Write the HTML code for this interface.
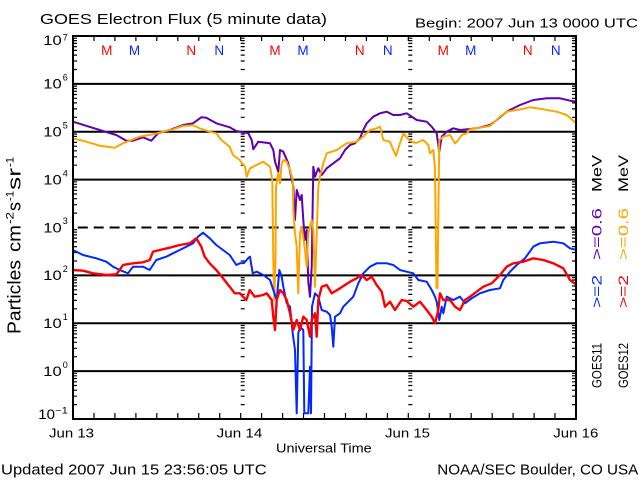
<!DOCTYPE html>
<html>
<head>
<meta charset="utf-8">
<style>
html,body{margin:0;padding:0;background:#fff;}
svg{display:block;}
text{font-family:"Liberation Sans",sans-serif;fill:#000;}
</style>
</head>
<body>
<svg width="640" height="480" viewBox="0 0 640 480" xmlns="http://www.w3.org/2000/svg">
<defs>
<clipPath id="plot"><rect x="73" y="36" width="503" height="383"/></clipPath>
<g id="mt"><path stroke="#000" stroke-width="1.2" fill="none" d="M0 404.6h4M0 396.2h4M0 390.2h4M0 385.5h4M0 381.8h4M0 378.5h4M0 375.8h4M0 373.3h4
M0 356.7h4M0 348.3h4M0 342.3h4M0 337.7h4M0 333.9h4M0 330.7h4M0 327.9h4M0 325.5h4
M0 308.8h4M0 300.4h4M0 294.4h4M0 289.8h4M0 286.0h4M0 282.8h4M0 280.0h4M0 277.6h4
M0 261.0h4M0 252.5h4M0 246.6h4M0 241.9h4M0 238.1h4M0 234.9h4M0 232.1h4M0 229.7h4
M0 213.1h4M0 204.7h4M0 198.7h4M0 194.0h4M0 190.3h4M0 187.0h4M0 184.3h4M0 181.8h4
M0 165.2h4M0 156.8h4M0 150.8h4M0 146.2h4M0 142.4h4M0 139.2h4M0 136.4h4M0 134.0h4
M0 117.3h4M0 108.9h4M0 102.9h4M0 98.3h4M0 94.5h4M0 91.3h4M0 88.5h4M0 86.1h4
M0 69.5h4M0 61.0h4M0 55.1h4M0 50.4h4M0 46.6h4M0 43.4h4M0 40.6h4M0 38.2h4"/></g>
</defs>

<!-- Title -->
<text x="40" y="24" font-size="15" textLength="287" lengthAdjust="spacingAndGlyphs">GOES Electron Flux (5 minute data)</text>
<text x="415" y="27.3" font-size="13" textLength="223" lengthAdjust="spacingAndGlyphs">Begin: 2007 Jun 13 0000 UTC</text>

<!-- Gridlines -->
<g stroke="#000" stroke-width="2" fill="none">
<path d="M73 83.9H576M73 131.75H576M73 179.6H576M73 275.4H576M73 323.25H576M73 371.1H576"/>
<path d="M73 227.5H576" stroke-dasharray="10,5.9" stroke-dashoffset="11.1"/>
</g>

<!-- minor ticks -->
<use href="#mt" x="73"/>
<use href="#mt" x="240.7"/>
<use href="#mt" x="408.3"/>
<use href="#mt" x="572"/>

<!-- time ticks -->
<path stroke="#000" stroke-width="1.2" fill="none" d="
M94 419v-6M114.9 419v-6M135.9 419v-6M156.8 419v-6M177.8 419v-6M198.75 419v-6M219.7 419v-6M240.7 419v-6M261.6 419v-6M282.6 419v-6M303.5 419v-6M324.5 419v-6M345.5 419v-6M366.4 419v-6M387.4 419v-6M408.3 419v-6M429.3 419v-6M450.25 419v-6M471.2 419v-6M492.2 419v-6M513.1 419v-6M534.1 419v-6M555 419v-6
M94 36v5M114.9 36v5M135.9 36v5M156.8 36v5M177.8 36v5M198.75 36v5M219.7 36v5M240.7 36v5M261.6 36v5M282.6 36v5M303.5 36v5M324.5 36v5M345.5 36v5M366.4 36v5M387.4 36v5M408.3 36v5M429.3 36v5M450.25 36v5M471.2 36v5M492.2 36v5M513.1 36v5M534.1 36v5M555 36v5"/>

<!-- M / N markers -->
<g font-size="13.5" text-anchor="middle">
<text x="106.7" y="55" style="fill:#ff0000">M</text>
<text x="134.5" y="55" style="fill:#0028ff">M</text>
<text x="191.3" y="55" style="fill:#ff0000">N</text>
<text x="219.2" y="55" style="fill:#0028ff">N</text>
<text x="275" y="55" style="fill:#ff0000">M</text>
<text x="303" y="55" style="fill:#0028ff">M</text>
<text x="359.7" y="55" style="fill:#ff0000">N</text>
<text x="387.7" y="55" style="fill:#0028ff">N</text>
<text x="443.3" y="55" style="fill:#ff0000">M</text>
<text x="470.8" y="55" style="fill:#0028ff">M</text>
<text x="527.8" y="55" style="fill:#ff0000">N</text>
<text x="555.8" y="55" style="fill:#0028ff">N</text>
</g>

<!-- Data -->
<g clip-path="url(#plot)" fill="none" stroke-linejoin="round" stroke-width="2">
<polyline stroke="#6000b0" points="73,121.7 103,131 116.3,135 126.3,140.7 133,140.7 143,137.3 151.3,140.7 158,133.3 169.7,130 183,125 193,123.3 201.3,117.3 206.3,117.7 216.3,123.3 229.7,127.3 236.3,131 240,131.7 248.3,133.3 251.7,140 253.3,149.3 258.3,141.7 270,143.3 273.3,150 275,161.7 278.3,171.7 280,150 283.3,151.7 288.3,163.3 293.3,186.7 295,220 296.7,190 300,200 301.7,195 303.3,220 305,240 306.7,230 308.3,281.7 310,296.7 311.7,266.7 313.3,166.7 315,176.7 318.3,168.3 321.7,175 326.7,168.3 333.3,163.3 340,158.3 345,150 350,145 355,143.3 360,138.3 363.3,130 366.7,123.3 373.3,116.7 380,113.3 386.7,111.7 393.3,115 400,115 406.7,113.3 416.7,120 426.7,121.7 431.7,126.7 436.7,133.3 439.3,151.7 441.7,136.7 446.7,131.7 453.3,128.3 460,130 470,129 476.7,128.3 490,125 496.7,120 506.7,111.7 520,105 533.3,100 546.7,98.3 560,98.3 570,100.7 577,101.7"/>
<polyline stroke="#ffa500" points="73,138.3 86.3,141.7 99.7,145.7 114.7,147.7 123,143.3 133,139.3 139.7,136.7 153,134.3 163,131.7 173,129.3 183,126 193,125.3 199.7,128.3 209.7,131.7 216.3,133.3 221.3,140 229.7,146.7 233,155 239.7,160 245,166.7 246.7,176.7 250,168.3 260,163.3 263.3,161.7 270,166.7 272.3,180 273.3,260 274.3,300 275.5,260 276,186.7 278.3,173.3 280,183.3 281.7,163.3 283.3,160 286.7,161.7 290,170 292.7,180 293.3,210 295,233.3 296.7,246.7 298.3,293.3 300,233.3 301.7,226.7 305,250 306.7,266.7 308.3,233.3 310,226.7 311.7,220 313.3,230 315,286.7 316.7,233.3 318.3,186.7 320,176.7 323.3,163.3 326.7,153.3 336.7,150 346.7,143.3 356.7,141.7 363.3,136.7 370,130 376.7,128.3 380,126.7 381.7,133.3 383.3,140 390,141.7 393.3,150 396,156 400,143 403.5,133.5 410,141 416,143 423.3,140 428.3,145 430,153.3 433.3,150 435,168.3 436,250 436.5,288 437.5,288 438.5,200 439.3,140 443.3,136.7 450,135 455,143.3 458.3,140 461.7,135 466.7,133.3 470,129.3 480,127.7 490,126 500,116.7 506.7,111.7 516.7,110 530,107.3 543.3,109.3 556.7,111.7 566.7,115 577,124"/>
<polyline stroke="#0028ff" points="73,250 83,255 96.3,258.3 106.3,261.7 113,266.7 119.7,270 128,273.3 133,266.7 143,266.7 149.7,270 156.3,260 166.3,256.7 173,253.3 179.7,250 186.3,246.7 193,243.3 198,236.7 203,232.7 209.7,238.3 216.3,245 223,250 229.7,255 236.3,265 240,263.3 244,263 248.3,258 250,256.7 252.7,273.3 256.7,271.7 263.3,275 270,280 273.3,290 276.7,300 279.3,270 281.7,276.7 283.3,286.7 286.7,303.3 290,306.7 292.7,333.3 295,350 296.7,413.3 298.3,333.3 300,326.7 303.3,330 304.3,413.3 308.3,413.3 310,366.7 311,413.3 312,306.7 315,293.3 318.3,296.7 321.7,310 326.7,311.7 330,315 331.7,326.7 333.3,346.7 335,316.7 340,313.3 343.3,306.7 346.7,303.3 353.3,296.7 358.3,283.3 363.3,273.3 370,266.7 376.7,263.3 386.7,263.3 393.3,265 400,270 406.7,271.7 413.3,273.3 418.3,280 426.7,281.7 431.7,290 435,296.7 436.7,301.7 439.3,320 441.7,306.7 443.3,313.3 446.7,296.7 453.3,300 460,296.7 465,303.3 471.7,298.3 480,293.3 490,290 500,288.3 503.3,280 510,271.7 516.7,265 525,258.3 533.3,246.7 540,243.3 553.3,241.7 563.3,243.3 570,248.3 577,250"/>
<polyline stroke="#ff0000" stroke-width="2.4" points="73,270 83,270.7 93,273.3 106.3,275 116.3,274.3 119.7,270 123,265 133,263.3 143,262.3 149.7,260 153,251.7 159.7,250 169.7,247.7 179.7,245 189.7,243.3 196.3,238.3 201.3,246.7 204.7,256.7 209.7,263.3 216.3,270 223,278.3 229.7,286.7 234.7,293.3 240,293.3 243,296.7 246.3,300 249.7,290 254.7,296.7 263,295 266.7,293.3 271.7,300 273.3,316.7 275,330 276.7,300 280,290 283.3,293.3 286.7,300 290,313.3 293.3,330 296.7,320 300,330 303.3,316.7 306.7,320 310,336.7 311.7,320 315,313.3 316.7,336.7 318.3,300 321.7,286.7 326.7,285 331.7,293.3 340,288.3 350,281.7 356.7,278.3 361.7,275 366.7,280 371.7,276.7 376.7,285 381.7,291.7 385,306.7 390,301.7 395,310 401.7,300 406.7,301 413.3,306.7 420,301.7 426.7,310 431.7,316.7 435,323.3 438.3,310 440,293.3 443.3,300 450,300 455,306.7 460,310 465,300 470,296.7 476.7,291.7 483.3,286.7 491.7,283.3 500,275 506.7,266.7 513.3,263.3 523.3,261.7 533.3,258.3 543.3,260 553.3,263.3 563.3,268.3 570,280 577,285"/>
</g>

<!-- Frame -->
<rect x="73" y="36" width="503" height="383" fill="none" stroke="#000" stroke-width="2"/>

<!-- Y tick labels -->
<g font-size="14">
<text x="43.3" y="45" textLength="18.4" lengthAdjust="spacingAndGlyphs">10</text>
<text x="43.3" y="88.6" textLength="18.4" lengthAdjust="spacingAndGlyphs">10</text>
<text x="43.3" y="136.5" textLength="18.4" lengthAdjust="spacingAndGlyphs">10</text>
<text x="43.3" y="184.4" textLength="18.4" lengthAdjust="spacingAndGlyphs">10</text>
<text x="43.3" y="232.3" textLength="18.4" lengthAdjust="spacingAndGlyphs">10</text>
<text x="43.3" y="280.2" textLength="18.4" lengthAdjust="spacingAndGlyphs">10</text>
<text x="43.3" y="328" textLength="18.4" lengthAdjust="spacingAndGlyphs">10</text>
<text x="43.3" y="375.9" textLength="18.4" lengthAdjust="spacingAndGlyphs">10</text>
<text x="38.3" y="419" textLength="16.7" lengthAdjust="spacingAndGlyphs">10</text>
</g>
<g font-size="9">
<text x="62.7" y="40.5">7</text>
<text x="62.7" y="80.5">6</text>
<text x="62.7" y="128.4">5</text>
<text x="62.7" y="176.3">4</text>
<text x="62.7" y="224.2">3</text>
<text x="62.7" y="272.1">2</text>
<text x="62.7" y="320">1</text>
<text x="62.7" y="367.9">0</text>
<text x="55" y="413.3" textLength="13" lengthAdjust="spacingAndGlyphs">−1</text>
</g>

<!-- Y axis title -->
<g transform="translate(20.7,334) rotate(-90)">
<text x="0" y="0" font-size="18" textLength="74" lengthAdjust="spacingAndGlyphs">Particles</text>
<text x="82" y="0" font-size="18" textLength="27" lengthAdjust="spacingAndGlyphs">cm</text>
<text x="110" y="-7" font-size="11" textLength="12" lengthAdjust="spacingAndGlyphs">-2</text>
<text x="123" y="0" font-size="18" textLength="9" lengthAdjust="spacingAndGlyphs">s</text>
<text x="133" y="-7" font-size="11" textLength="10" lengthAdjust="spacingAndGlyphs">-1</text>
<text x="144" y="0" font-size="18" textLength="22" lengthAdjust="spacingAndGlyphs">sr</text>
<text x="167" y="-7" font-size="11" textLength="10" lengthAdjust="spacingAndGlyphs">-1</text>
</g>

<!-- X labels -->
<g font-size="13">
<text x="49" y="437.7" textLength="45" lengthAdjust="spacingAndGlyphs">Jun 13</text>
<text x="216.7" y="437.7" textLength="45.6" lengthAdjust="spacingAndGlyphs">Jun 14</text>
<text x="385" y="437.7" textLength="45" lengthAdjust="spacingAndGlyphs">Jun 15</text>
<text x="553.3" y="437.7" textLength="45" lengthAdjust="spacingAndGlyphs">Jun 16</text>
</g>
<text x="276" y="452.3" font-size="12.5" textLength="95.7" lengthAdjust="spacingAndGlyphs">Universal Time</text>

<!-- Footer -->
<text x="1" y="474.3" font-size="15" textLength="265.7" lengthAdjust="spacingAndGlyphs">Updated 2007 Jun 15 23:56:05 UTC</text>
<text x="437.3" y="474.3" font-size="15" textLength="201" lengthAdjust="spacingAndGlyphs">NOAA/SEC Boulder, CO USA</text>

<!-- Legend (rotated) -->
<g font-size="13.5">
<text transform="translate(601.7,388) rotate(-90)" textLength="45" lengthAdjust="spacingAndGlyphs">GOES11</text>
<text transform="translate(601.7,308) rotate(-90)" textLength="33" lengthAdjust="spacingAndGlyphs" style="fill:#0028ff">&gt;=2</text>
<text transform="translate(601.7,260) rotate(-90)" textLength="52" lengthAdjust="spacingAndGlyphs" style="fill:#6000b0">&gt;=0.6</text>
<text transform="translate(601.7,192) rotate(-90)" textLength="37" lengthAdjust="spacingAndGlyphs">MeV</text>
<text transform="translate(628,388) rotate(-90)" textLength="45" lengthAdjust="spacingAndGlyphs">GOES12</text>
<text transform="translate(628,308) rotate(-90)" textLength="33" lengthAdjust="spacingAndGlyphs" style="fill:#ff0000">&gt;=2</text>
<text transform="translate(628,260) rotate(-90)" textLength="52" lengthAdjust="spacingAndGlyphs" style="fill:#ffa500">&gt;=0.6</text>
<text transform="translate(628,192) rotate(-90)" textLength="37" lengthAdjust="spacingAndGlyphs">MeV</text>
</g>
</svg>
</body>
</html>
